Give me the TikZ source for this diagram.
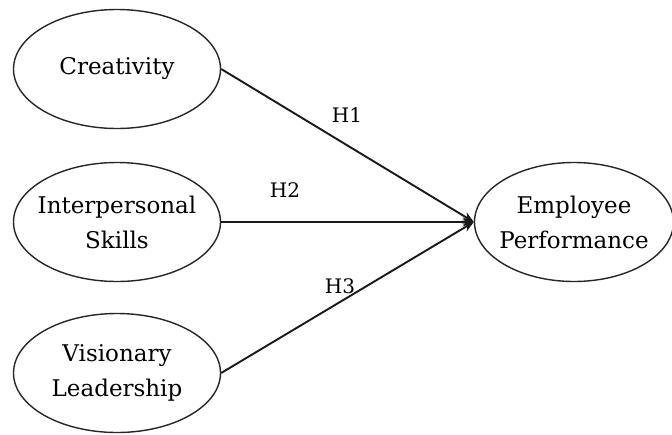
\documentclass[tikz,border=0pt]{standalone}
\usepackage{fontspec}
\setmainfont{DejaVu Serif}
\usetikzlibrary{shapes.geometric,arrows.meta}
\begin{document}
\begin{tikzpicture}[x=1pt,y=-1pt,
  oval/.style={draw=black!85,line width=1.4pt,ellipse,inner xsep=-40pt,inner ysep=-20pt,
    minimum width=207pt,minimum height=119pt,align=center,
    font=\fontsize{23pt}{35pt}\selectfont,text=black},
  hyp/.style={font=\fontsize{20pt}{22pt}\selectfont,text=black},
  link/.style={line width=1.9pt,draw=black!90,-{Stealth[length=11pt,width=9pt]}}]
\useasboundingbox (0,0) rectangle (672,434);
\node[oval] (c) at (117,69) {Creativity};
\node[oval] (i) at (117,222) {Interpersonal\\Skills};
\node[oval] (v) at (117,373) {Visionary\\Leadership};
\node[oval,minimum width=199pt] (e) at (574,222) {Employee\\Performance};
\draw[link] (c.east) -- (e.west);
\draw[link] (i.east) -- (e.west);
\draw[link] (v.east) -- (e.west);
\node[hyp] (h1) at (347,115) {H1};
\node[hyp] (h2) at (285,190) {H2};
\node[hyp] (h3) at (340,286) {H3};
\end{tikzpicture}
\end{document}
